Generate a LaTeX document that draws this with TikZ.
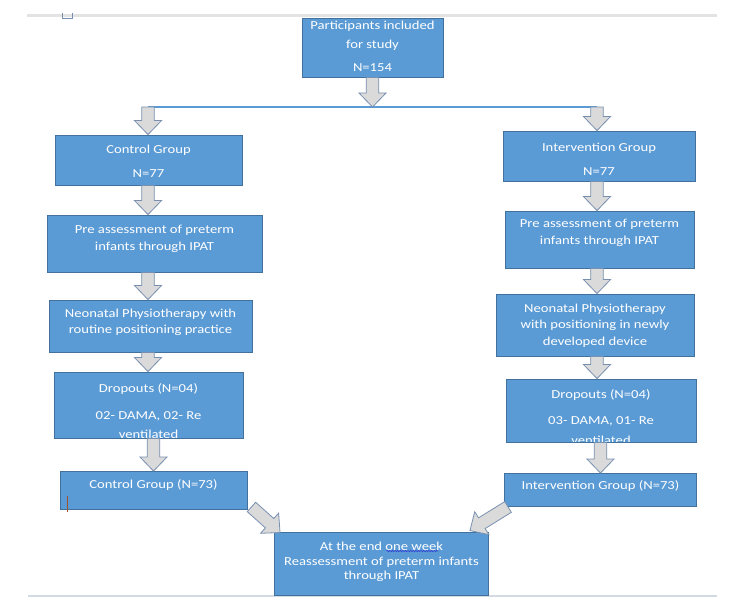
\documentclass[tikz,border=0pt]{standalone}
\usepackage{fontspec}
\setmainfont{Carlito}[FakeStretch=1.2]
\usetikzlibrary{calc,decorations.pathmorphing}
\definecolor{boxfill}{HTML}{5B9BD5}
\definecolor{boxline}{HTML}{41719C}
\definecolor{arrfill}{HTML}{DADADA}
\definecolor{arrline}{HTML}{7890B0}
\definecolor{rulegrey}{HTML}{E3E3E3}
\definecolor{rulebot}{HTML}{D3DAE2}
\definecolor{spellblue}{HTML}{2F3FD0}
\definecolor{cursorbrown}{HTML}{A0522D}
\tikzset{
  flowbox/.style={draw=boxline, fill=boxfill, line width=0.9pt, inner sep=0pt},
  flowtxt/.style={text=white, align=center, inner sep=0pt, font=\fontsize{12.2}{16.5}\selectfont},
  blockarr/.style={draw=arrline, fill=arrfill, line width=0.8pt, line join=miter},
}
% box: name, cx, cy, width, height, upward text shift, text
\newcommand\mkbox[7]{%
  \node[flowbox, minimum width=#4pt, minimum height=#5pt,
    path picture={\node[flowtxt] (#1-t) at ([yshift=#6pt]path picture bounding box.center) {#7};}]
    (#1) at (#2,#3) {};}
% block arrow from coordinate #1 to coordinate #2
\newcommand\blockarrow[2]{%
  \coordinate (ba-h) at ($(#2)!14pt!(#1)$);
  \draw[blockarr] ($(#1)!6.3pt!90:(#2)$) -- ($(ba-h)!6.3pt!-90:(#1)$) -- ($(ba-h)!13.5pt!-90:(#1)$)
     -- (#2) -- ($(ba-h)!13.5pt!90:(#1)$) -- ($(ba-h)!6.3pt!90:(#1)$) -- ($(#1)!6.3pt!-90:(#2)$) -- cycle;}
% vertical block arrow from box #1 to box #2 along the column of coordinate #3
\newcommand\varrow[3]{%
  \coordinate (va-s) at (#1.south -| #3);
  \coordinate (va-e) at (#2.north -| #3);
  \blockarrow{va-s}{va-e}}
\begin{document}
\begin{tikzpicture}[x=1pt,y=-1pt]
\useasboundingbox (0,0) rectangle (750,610);
% page rules
\draw[rulegrey, line width=3pt] (27,16) -- (717,16);
\draw[rulebot, line width=1.2pt] (28,596) -- (717,596);
\draw[arrline, line width=0.7pt] (62,13) -- (62,18) -- (72,18) -- (72,13);
% columns
\coordinate (lcol) at (148,0);
\coordinate (rcol) at (597,0);
% boxes
\mkbox{top}{372.5}{47.5}{141}{59}{1}{Participants included\\[2pt]for study\\[7pt]N=154}
\mkbox{cg}{148.5}{160}{187}{50}{-1.5}{Control Group\\[7pt]N=77}
\mkbox{ig}{599}{156}{192}{50}{-3.5}{Intervention Group\\[7pt]N=77}
\mkbox{pl}{154.5}{243.5}{215}{57}{4.5}{Pre assessment of preterm\\[1pt]infants through IPAT}
\mkbox{pr}{599.5}{239.5}{189}{57}{6.5}{Pre assessment of preterm\\[1pt]infants through IPAT}
\mkbox{nl}{150.5}{326}{203}{52}{3.5}{Neonatal Physiotherapy with\\routine positioning practice}
\mkbox{nr}{595}{325}{198}{62}{-0.5}{Neonatal Physiotherapy\\with positioning in newly\\developed device}
\mkbox{dl}{148.5}{405}{189}{66}{-6.5}{Dropouts (N=04)\\[10pt]02- DAMA, 02- Re\\[3pt]ventilated}
\mkbox{dr}{601}{410.5}{190}{63}{-6.5}{Dropouts (N=04)\\[10pt]03- DAMA, 01- Re\\[3pt]ventilated}
\mkbox{cf}{153.5}{490.5}{187}{38}{5}{Control Group (N=73)}
\mkbox{if}{600.5}{490}{192}{33}{4}{Intervention Group (N=73)}
\mkbox{fin}{381.5}{563.5}{214}{63}{1.5}{At the end one week\\[-2pt]Reassessment of preterm infants\\[-2pt]through IPAT}
% spell-check underline and cursor
\draw[spellblue, line width=0.6pt, decorate, decoration={snake, amplitude=0.7pt, segment length=2.6pt}]
  ($(fin-t.north)+(5,21)$) -- ($(fin-t.north)+(57,21)$);
\draw[cursorbrown, line width=0.9pt] ($(cf.south west)+(8,-14)$) -- ($(cf.south west)+(8,2)$);
% splitter
\coordinate (split) at (top.south |- 0,107);
\coordinate (lsplit) at (lcol |- split);
\coordinate (rsplit) at (rcol |- split);
\draw[boxfill, line width=1.5pt] (lsplit) -- (rsplit);
\blockarrow{top.south}{split}
\coordinate (lend) at (lcol |- cg.north);
\coordinate (rend) at (rcol |- ig.north);
\blockarrow{lsplit}{lend}
\blockarrow{rsplit}{rend}
% columns
\varrow{cg}{pl}{lcol}
\varrow{pl}{nl}{lcol}
\varrow{nl}{dl}{lcol}
\varrow{dl}{cf}{cf}
\varrow{ig}{pr}{rcol}
\varrow{pr}{nr}{rcol}
\varrow{nr}{dr}{rcol}
\varrow{dr}{if}{if}
% to the final box
\coordinate (dla) at ($(cf.south east)+(4,-3)$);
\coordinate (dlb) at ($(fin.north west)+(6,1)$);
\coordinate (dra) at ($(if.south west)+(4,0)$);
\coordinate (drb) at ($(fin.north east)+(-19,-1)$);
\blockarrow{dla}{dlb}
\blockarrow{dra}{drb}
\end{tikzpicture}
\end{document}
